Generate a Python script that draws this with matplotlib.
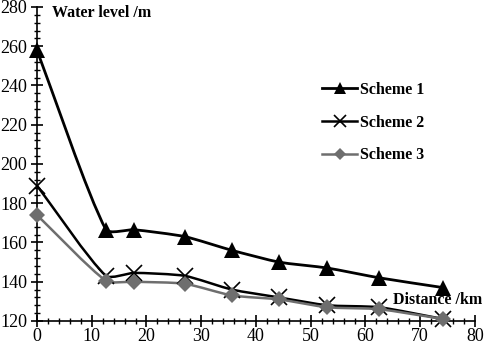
import math

import matplotlib
matplotlib.use("Agg")
import matplotlib.pyplot as plt
from matplotlib.path import Path
from matplotlib.patches import PathPatch
from matplotlib.lines import Line2D
from matplotlib.ticker import MultipleLocator

distance = [0, 12.6, 17.7, 27.0, 35.6, 44.2, 53.0, 62.5, 74.2]
scheme1 = [258, 166.5, 166.5, 163, 156, 150, 147, 142, 137]
scheme2 = [189, 143, 144.5, 143, 136, 132, 128, 127, 121]
scheme3 = [174, 140.5, 140, 139, 133, 131, 127, 126, 121]

SERIES = [
    ("Scheme 1", scheme1, "#000000", "^", 11, 2.0),
    ("Scheme 2", scheme2, "#000000", "x", 11, 1.8),
    ("Scheme 3", scheme3, "#6e6e6e", "D", 8, 1.8),
]

plt.rcParams["font.family"] = ["Liberation Serif", "DejaVu Serif"]


def smooth_path(ax, xs, ys, k=0.2):
    # smoothed line like a spreadsheet chart: Bezier through each point,
    # tangents worked out in pixel space so the curve doesn't overshoot much
    to_px = ax.transData
    pts = [tuple(to_px.transform((x, y))) for x, y in zip(xs, ys)]
    n = len(pts)
    tans = []
    for i in range(n):
        a = pts[max(i - 1, 0)]
        b = pts[min(i + 1, n - 1)]
        dx, dy = b[0] - a[0], b[1] - a[1]
        norm = math.hypot(dx, dy) or 1.0
        tans.append((dx / norm, dy / norm))
    verts = [pts[0]]
    codes = [Path.MOVETO]
    for i in range(n - 1):
        p1, p2 = pts[i], pts[i + 1]
        seg = math.hypot(p2[0] - p1[0], p2[1] - p1[1]) * k
        c1 = (p1[0] + tans[i][0] * seg, p1[1] + tans[i][1] * seg)
        c2 = (p2[0] - tans[i + 1][0] * seg, p2[1] - tans[i + 1][1] * seg)
        verts += [c1, c2, p2]
        codes += [Path.CURVE4] * 3
    inv = to_px.inverted()
    return Path([tuple(inv.transform(v)) for v in verts], codes)


fig = plt.figure(figsize=(4.84, 3.46), dpi=100)
ax = fig.add_axes([0.0764, 0.0723, 0.905, 0.9075])
ax.set_xlim(0, 80)
ax.set_ylim(120, 280)

handles = []
for label, ys, color, marker, ms, lw in SERIES:
    ax.add_patch(PathPatch(smooth_path(ax, distance, ys), facecolor="none",
                           edgecolor=color, linewidth=lw, zorder=2))
    mew = 1.2 if marker == "x" else 0
    ax.plot(distance, ys, linestyle="none", marker=marker, markersize=ms,
            color=color, markeredgewidth=mew, clip_on=False, zorder=3)
    handles.append(Line2D([], [], color=color, linewidth=lw, marker=marker,
                          markersize=ms * 0.75, markeredgewidth=mew))

ax.xaxis.set_major_locator(MultipleLocator(10))
ax.xaxis.set_minor_locator(MultipleLocator(2))
ax.yaxis.set_major_locator(MultipleLocator(20))
ax.yaxis.set_minor_locator(MultipleLocator(4))
for side in ("top", "right"):
    ax.spines[side].set_visible(False)
for side in ("left", "bottom"):
    ax.spines[side].set_linewidth(1.2)
ax.tick_params(which="major", direction="inout", length=8, width=1.2,
               labelsize=13, pad=3)
ax.tick_params(which="minor", direction="inout", length=5, width=1.0)
ax.tick_params(axis="x", pad=1)

ax.text(0.034, 0.982, "Water level /m", transform=ax.transAxes, ha="left",
        va="center", fontsize=11.5, fontweight="bold")
ax.text(1.016, 0.066, "Distance /km", transform=ax.transAxes, ha="right",
        va="center", fontsize=11.5, fontweight="bold")

ax.legend(handles, [s[0] for s in SERIES], loc="center left",
          bbox_to_anchor=(0.651, 0.632), frameon=False, handlelength=2.2,
          handletextpad=0.2, labelspacing=1.05, borderpad=0, borderaxespad=0,
          prop={"weight": "bold", "size": 11.5})

fig.savefig("out.png", dpi=100)
